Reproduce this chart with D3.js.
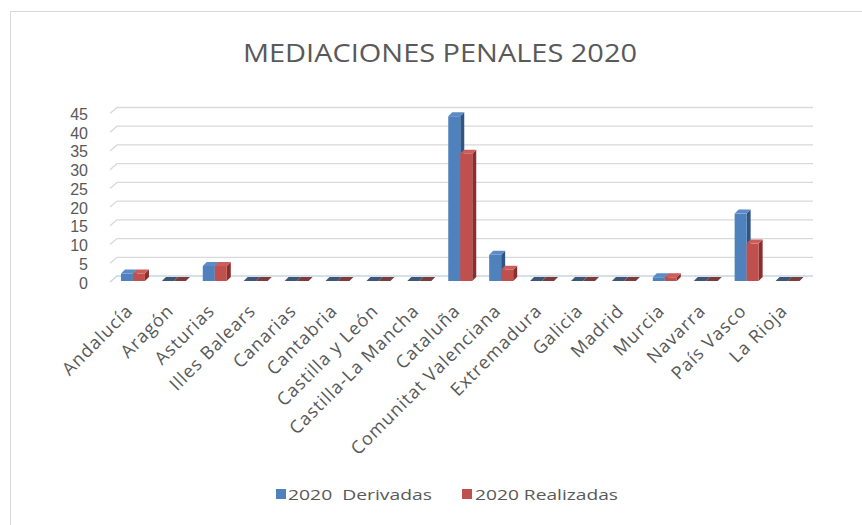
<!DOCTYPE html>
<html><head><meta charset="utf-8">
<script src="https://cdn.jsdelivr.net/npm/d3@7"></script>
<style>body{margin:0;background:#fff}</style></head><body>
<svg id="c" width="862" height="525"></svg>
<script>
const categories = ["Andalucía","Aragón","Asturias","Illes Balears","Canarias","Cantabria","Castilla y León","Castilla-La Mancha","Cataluña","Comunitat Valenciana","Extremadura","Galicia","Madrid","Murcia","Navarra","País Vasco","La Rioja"];
const derivadas = [2,0,4,0,0,0,0,0,44,7,0,0,0,1,0,18,0];
const realizadas = [2,0,4,0,0,0,0,0,34,3,0,0,0,1,0,10,0];
const yTicks = [0,5,10,15,20,25,30,35,40,45];
const seriesNames = ["2020  Derivadas","2020 Realizadas"];
const titleText = "MEDIACIONES PENALES 2020";

const svg = d3.select("#c");
const font = "'Open Sans', 'Liberation Sans', sans-serif";
const txt = "#595959";
const colors = [
  {front:"#4f81bd", top:"#5b8cc6", side:"#2f5584", ztop:"#3e5678"},
  {front:"#c0504d", top:"#cb5d5a", side:"#8a2f2d", ztop:"#7a3c3c"}
];

// frame
svg.append("rect").attr("x",10.5).attr("y",11.5).attr("width",900).attr("height",600)
  .attr("fill","none").attr("stroke","#d9d9d9");

svg.append("text").attr("x",440).attr("y",62).attr("text-anchor","middle")
  .attr("font-family",font).attr("font-size",26).attr("fill",txt)
  .attr("textLength",394).attr("lengthAdjust","spacingAndGlyphs").text(titleText);

const x = d3.scaleBand().domain(categories).range([112.5,808]).padding(0);
const y = d3.scaleLinear().domain([0,45]).range([281,112.5]);
const bdx = 4, bdy = 4;   // bar depth
const bw = 12;

// gridlines (back wall)
const g = svg.append("g");
yTicks.forEach(t => {
  const yy = y(t);
  g.append("path")
    .attr("d", `M${110},${yy+1}L${117},${yy-5}L${813},${yy-5}`)
    .attr("fill","none").attr("stroke", t===0 ? "#c9d3df" : "#d9d9d9").attr("stroke-width",1.3);
});

// y labels
svg.append("g").selectAll("text").data(yTicks).join("text")
  .attr("x",88).attr("y",d=>y(d)+2).attr("text-anchor","end").attr("dominant-baseline","central")
  .attr("font-family","'Liberation Sans', Arial, sans-serif").attr("font-size",16).attr("fill",txt).text(d=>d);

// bars
const series = [derivadas, realizadas];
series.forEach((vals, si) => {
  const c = colors[si];
  const gb = svg.append("g");
  vals.forEach((v, i) => {
    const cx = x(categories[i]) + x.bandwidth()/2;
    const x0 = cx - bw + si*bw, x1 = x0 + bw;
    const yt = y(v), yb = y(0);
    gb.append("path").attr("d",`M${x1},${yb}L${x1+bdx},${yb-bdy}L${x1+bdx},${yt-bdy}L${x1},${yt}Z`).attr("fill",c.side);
    if (v > 0) gb.append("rect").attr("x",x0).attr("y",yt).attr("width",bw).attr("height",yb-yt).attr("fill",c.front);
    gb.append("path").attr("d",`M${x0},${yt}L${x0+bdx},${yt-bdy}L${x1+bdx},${yt-bdy}L${x1},${yt}Z`)
      .attr("fill", v>0 ? c.top : c.ztop);
  });
});

// category labels
svg.append("g").selectAll("text").data(categories).join("text")
  .attr("transform",d=>`translate(${x(d)+x.bandwidth()/2+1},${312}) rotate(-45)`)
  .attr("text-anchor","end").attr("font-family",font).attr("font-size",18)
  .attr("letter-spacing",1).attr("fill",txt).text(d=>d);

// legend
const lg = svg.append("g");
[[276,288,432],[462,475,618]].forEach((p,i)=>{
  lg.append("rect").attr("x",p[0]).attr("y",489).attr("width",10).attr("height",10).attr("fill",colors[i].front);
  lg.append("text").attr("x",p[1]).attr("y",499.5).attr("font-family",font).attr("font-size",15).attr("fill",txt)
    .attr("textLength",p[2]-p[1]).attr("lengthAdjust","spacingAndGlyphs").attr("xml:space","preserve").text(seriesNames[i]);
});
</script></body></html>
